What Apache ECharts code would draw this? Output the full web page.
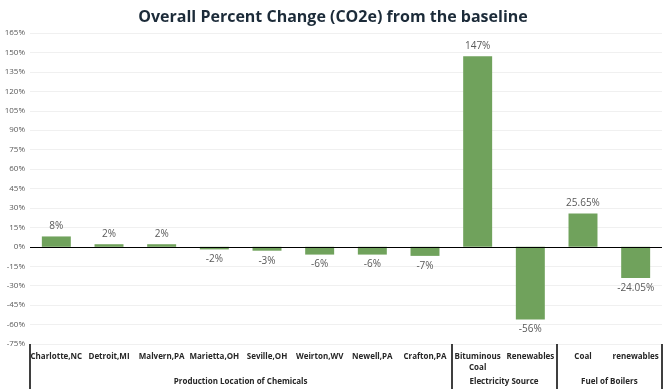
<!DOCTYPE html>
<html><head><meta charset="utf-8">
<script src="https://cdn.jsdelivr.net/npm/echarts@6/dist/echarts.min.js"></script>
<style>html,body{margin:0;padding:0;background:#fff}#c{width:666px;height:389px}</style>
</head><body><div id="c"></div>
<script>
const categories = ['Charlotte,NC','Detroit,MI','Malvern,PA','Marietta,OH','Seville,OH','Weirton,WV','Newell,PA','Crafton,PA','Bituminous\nCoal','Renewables','Coal','renewables'];
const values = [8, 2, 2, -2, -3, -6, -6, -7, 147, -56, 25.65, -24.05];
const valueLabels = ['8%','2%','2%','-2%','-3%','-6%','-6%','-7%','147%','-56%','25.65%','-24.05%'];
const groups = ['Production Location of Chemicals','Electricity Source','Fuel of Boilers'];
const groupSizes = [8, 2, 2];
const yTicks = {min: -75, max: 165, interval: 15};

const bounds = [0]; groupSizes.forEach(s => bounds.push(bounds[bounds.length-1] + s));
const centers = groupSizes.map((s, i) => bounds[i] + s / 2);

const chart = echarts.init(document.getElementById('c'));
chart.setOption({
  animation: false,
  title: {text: 'Overall Percent Change (CO2e) from the baseline', left: 'center', top: 4,
    textStyle: {fontFamily: 'Open Sans', fontSize: 16, fontWeight: 'bold', color: '#1c2b39'}},
  grid: {left: 30, right: 4, top: 33, bottom: 45},
  xAxis: [{
    type: 'category', data: categories, position: 'bottom',
    axisLine: {show: false}, axisTick: {show: false},
    axisLabel: {interval: 0, margin: 7, fontFamily: 'Open Sans', fontSize: 8, fontWeight: 'bold', color: '#262626', lineHeight: 11}
  }, {
    type: 'value', min: 0, max: bounds[bounds.length-1], position: 'bottom',
    axisLine: {show: false}, splitLine: {show: false},
    axisTick: {show: true, length: 46, customValues: bounds, lineStyle: {color: '#000', width: 1.5}},
    axisLabel: {customValues: centers, margin: 34, fontFamily: 'Open Sans', fontSize: 8, fontWeight: 'bold', color: '#262626',
      formatter: v => groups[centers.indexOf(v)] || ''}
  }],
  yAxis: {
    type: 'value', min: yTicks.min, max: yTicks.max, interval: yTicks.interval,
    axisLine: {show: false}, axisTick: {show: false},
    splitLine: {lineStyle: {color: '#f0f0f0'}},
    axisLabel: {formatter: '{value}%', fontFamily: 'Open Sans', fontSize: 8, color: '#595959', margin: 5}
  },
  series: [{
    type: 'bar', xAxisIndex: 0, barWidth: '55%',
    itemStyle: {color: '#70a25c'},
    data: values.map((v, i) => ({value: v, label: {position: v >= 0 ? 'top' : 'bottom'}})),
    label: {show: true, distance: 5, fontFamily: 'Open Sans', fontSize: 10, color: '#595959',
      formatter: p => valueLabels[p.dataIndex]},
    markLine: {silent: true, symbol: 'none', label: {show: false},
      lineStyle: {color: '#000', width: 1.2, type: 'solid'}, data: [{yAxis: 0}]}
  }]
});
</script></body></html>
